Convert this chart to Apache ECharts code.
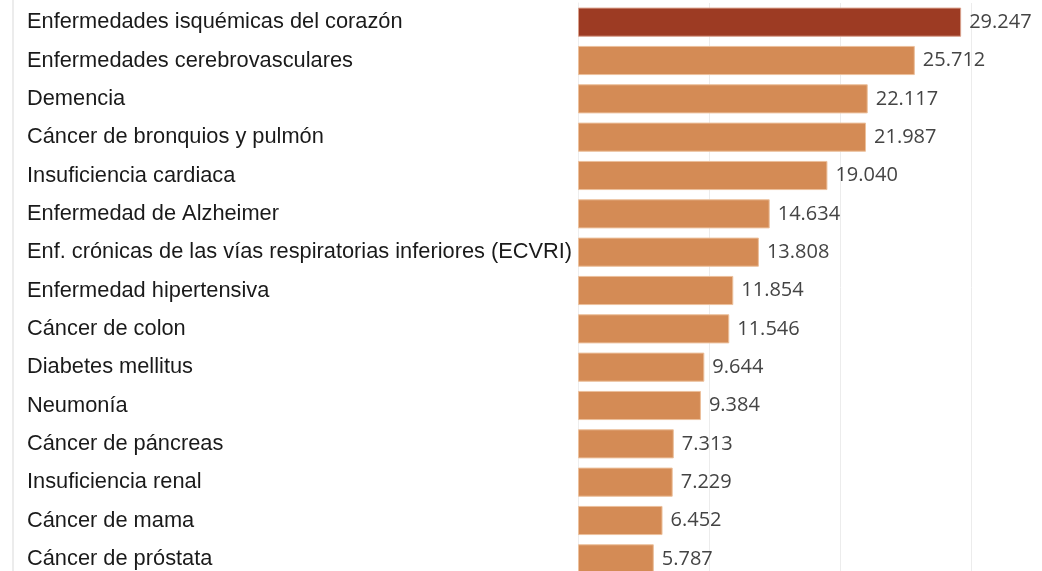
<!DOCTYPE html>
<html>
<head>
<meta charset="utf-8">
<script src="https://cdn.jsdelivr.net/npm/echarts@6/dist/echarts.min.js"></script>
<style>
  html, body { margin: 0; padding: 0; background: #fff; }
  #chart { width: 1042px; height: 571px; }
</style>
</head>
<body>
<div id="chart"></div>
<script>
var causes = [
  'Enfermedades isquémicas del corazón',
  'Enfermedades cerebrovasculares',
  'Demencia',
  'Cáncer de bronquios y pulmón',
  'Insuficiencia cardiaca',
  'Enfermedad de Alzheimer',
  'Enf. crónicas de las vías respiratorias inferiores (ECVRI)',
  'Enfermedad hipertensiva',
  'Cáncer de colon',
  'Diabetes mellitus',
  'Neumonía',
  'Cáncer de páncreas',
  'Insuficiencia renal',
  'Cáncer de mama',
  'Cáncer de próstata'
];
var deaths = [29247, 25712, 22117, 21987, 19040, 14634, 13808, 11854, 11546, 9644, 9384, 7313, 7229, 6452, 5787];
var highlight = 'Enfermedades isquémicas del corazón';

// separador de miles con punto
function fmt(v) {
  return String(v).replace(/\B(?=(\d{3})+(?!\d))/g, '.');
}

var myChart = echarts.init(document.getElementById('chart'));

var option = {
  animation: false,
  grid: { left: 578, width: 393, top: 3, height: 575, outerBoundsMode: 'none' },
  xAxis: {
    type: 'value',
    min: 0,
    max: 30000,
    interval: 10000,
    axisLabel: { show: false },
    axisLine: { show: false },
    axisTick: { show: false },
    splitLine: { lineStyle: { color: '#ececec', width: 1 } }
  },
  yAxis: {
    type: 'category',
    data: causes,
    inverse: true,
    axisTick: { show: false },
    axisLine: { lineStyle: { color: '#eeeeee' } },
    axisLabel: {
      align: 'left',
      margin: 551,
      fontFamily: 'Liberation Sans, Arial, sans-serif',
      fontSize: 21.8,
      color: '#1a1a1a'
    }
  },
  graphic: [{
    type: 'rect',
    shape: { x: 12, y: 0, width: 2, height: 571 },
    style: { fill: '#ececec' },
    silent: true
  }],
  series: [{
    type: 'bar',
    barCategoryGap: '24%',
    data: deaths.map(function (v, i) {
      var hot = causes[i] === highlight;
      return {
        value: v,
        itemStyle: {
          color: hot ? '#9d3b23' : '#d48b55',
          borderColor: hot ? '#d9a08c' : '#ecc09c',
          borderWidth: 1
        }
      };
    }),
    label: {
      show: true,
      position: 'right',
      distance: 8,
      fontFamily: 'Open Sans, sans-serif',
      fontSize: 20,
      color: '#444',
      formatter: function (p) { return fmt(p.value); }
    }
  }]
};
myChart.setOption(option);
window.addEventListener('resize', function () {
  myChart.resize();
});
</script>
</body>
</html>
